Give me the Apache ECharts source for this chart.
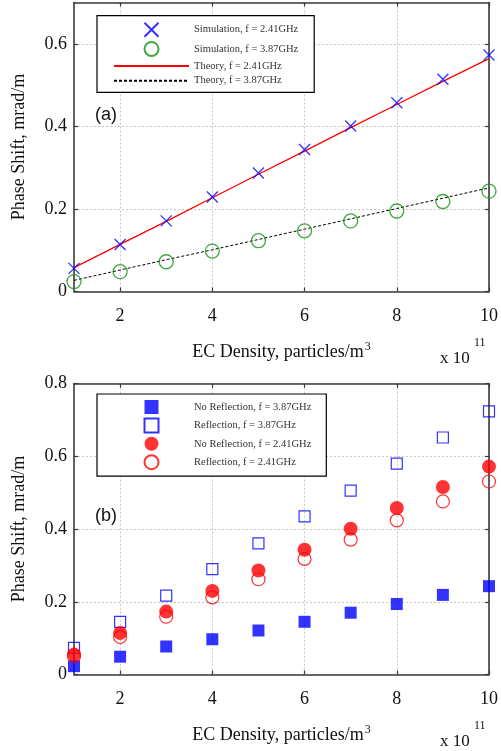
<!DOCTYPE html>
<html>
<head>
<meta charset="utf-8">
<script src="https://cdn.jsdelivr.net/npm/echarts@6/dist/echarts.min.js"></script>
<style>
  html, body { margin: 0; padding: 0; background: #fff; }
  #chart { width: 501px; height: 751px; }
</style>
</head>
<body>
<div id="chart"></div>
<script>
// EC density (units of 1e11 particles/m^3)
const density = [1, 2, 3, 4, 5, 6, 7, 8, 9, 10];
const xTicks = [2, 4, 6, 8, 10];
const yTicksA = [0, 0.2, 0.4, 0.6];
const yTicksB = [0, 0.2, 0.4, 0.6, 0.8];

// Panel (a): simulation vs. theory
const simA241 = [0.056, 0.114, 0.171, 0.229, 0.287, 0.344, 0.401, 0.457, 0.514, 0.573];
const simA387 = [0.024, 0.048, 0.072, 0.098, 0.123, 0.147, 0.171, 0.195, 0.218, 0.243];
const theoryA241 = [0.058, 0.114, 0.170, 0.227, 0.284, 0.340, 0.397, 0.453, 0.509, 0.564];
const theoryA387 = [0.027, 0.052, 0.077, 0.101, 0.126, 0.151, 0.176, 0.201, 0.226, 0.251];

// Panel (b): with and without reflections
const noRefl387 = [0.023, 0.049, 0.077, 0.097, 0.121, 0.145, 0.170, 0.194, 0.219, 0.243];
const refl387 = [0.073, 0.145, 0.217, 0.290, 0.361, 0.435, 0.506, 0.580, 0.652, 0.724];
const noRefl241 = [0.055, 0.114, 0.173, 0.230, 0.286, 0.343, 0.401, 0.458, 0.516, 0.572];
const refl241 = [0.050, 0.103, 0.159, 0.212, 0.262, 0.318, 0.371, 0.424, 0.476, 0.531];

const pairs = ys => density.map((x, i) => [x, ys[i]]);

const SERIF = '"Liberation Serif", "DejaVu Serif", serif';
const SANS = '"Liberation Sans", Arial, sans-serif';
const AXIS_COLOR = '#3a3a3a';
const BLUE = '#0000ff';
const RED = '#ff0000';
const GREEN = '#129412';
const CROSS = 'path://M0,0L10,10M0,10L10,0';
const SQUARE = 'path://M0,0H10V10H0Z';

function mainX(gridIndex) {
  return {
    type: 'value', gridIndex, min: 1, max: 10, position: 'bottom',
    name: '{t|EC Density, particles/m}{s|3}',
    nameLocation: 'middle', nameGap: 49,
    nameTextStyle: {
      rich: {
        t: { fontFamily: SERIF, fontSize: 18, color: '#111', verticalAlign: 'bottom' },
        s: { fontFamily: SERIF, fontSize: 12, color: '#111', verticalAlign: 'bottom', padding: [0, 0, 9, 1] }
      }
    },
    axisLine: { show: true, onZero: false, lineStyle: { color: AXIS_COLOR, width: 1.6 } },
    axisTick: { show: true, inside: true, length: 4, customValues: xTicks, lineStyle: { color: AXIS_COLOR, width: 1.2 } },
    axisLabel: { customValues: xTicks, margin: 16, fontFamily: SERIF, fontSize: 18, color: '#111' },
    splitLine: { show: true, lineStyle: { color: '#c8c8c8', type: [2, 2], width: 1 } }
  };
}
function topX(gridIndex) {
  return {
    type: 'value', gridIndex, min: 1, max: 10, position: 'top',
    axisLine: { show: true, onZero: false, lineStyle: { color: AXIS_COLOR, width: 1.6 } },
    axisTick: { show: true, inside: true, length: 4, customValues: xTicks, lineStyle: { color: AXIS_COLOR, width: 1.2 } },
    axisLabel: { show: false },
    splitLine: { show: false }
  };
}
function mainY(gridIndex, max, ticks) {
  return {
    type: 'value', gridIndex, min: 0, max, position: 'left',
    name: 'Phase Shift, mrad/m', nameLocation: 'middle', nameGap: 46,
    nameTextStyle: { fontFamily: SERIF, fontSize: 18, color: '#111' },
    axisLine: { show: true, onZero: false, lineStyle: { color: AXIS_COLOR, width: 1.6 } },
    axisTick: { show: true, inside: true, length: 4, customValues: ticks, lineStyle: { color: AXIS_COLOR, width: 1.2 } },
    axisLabel: { customValues: ticks, margin: 7, fontFamily: SERIF, fontSize: 18, color: '#111' },
    splitLine: { show: true, lineStyle: { color: '#c8c8c8', type: [2, 2], width: 1 } }
  };
}
function rightY(gridIndex, max, ticks) {
  return {
    type: 'value', gridIndex, min: 0, max, position: 'right',
    axisLine: { show: true, onZero: false, lineStyle: { color: AXIS_COLOR, width: 1.6 } },
    axisTick: { show: true, inside: true, length: 4, customValues: ticks, lineStyle: { color: AXIS_COLOR, width: 1.2 } },
    axisLabel: { show: false },
    splitLine: { show: false }
  };
}

const legendBase = {
  orient: 'vertical', left: 97,
  itemWidth: 75, itemHeight: 14, itemGap: 3.4,
  borderColor: '#000', borderWidth: 1.2, borderRadius: 0,
  backgroundColor: '#fff',
  symbolKeepAspect: true,
  textStyle: { fontFamily: SERIF, fontSize: 10.5, color: '#333' },
  selectedMode: false
};

const option = {
  animation: false,
  backgroundColor: '#fff',
  grid: [
    { left: 74, right: 11, top: 2.5, bottom: 459.5 },
    { left: 74, right: 11, top: 383.7, bottom: 76.5 }
  ],
  xAxis: [mainX(0), topX(0), mainX(1), topX(1)],
  yAxis: [mainY(0, 0.7, yTicksA), rightY(0, 0.7, yTicksA), mainY(1, 0.8, yTicksB), rightY(1, 0.8, yTicksB)],
  legend: [
    Object.assign({}, legendBase, {
      top: 15.7,
      padding: [6, 16, 6, 16],
      data: ['Simulation, f = 2.41GHz', 'Simulation, f = 3.87GHz', 'Theory, f = 2.41GHz', 'Theory, f = 3.87GHz']
    }),
    // symbol-only entries: icons sit in the middle of the 75px slot, so widen the left padding
    Object.assign({}, legendBase, {
      top: 394,
      padding: [6, 15, 6, 46.5],
      data: ['No Reflection, f = 3.87GHz', 'Reflection, f = 3.87GHz', 'No Reflection, f = 2.41GHz', 'Reflection, f = 2.41GHz']
    })
  ],
  graphic: [
    { type: 'text', left: 95, top: 106, style: { text: '(a)', font: '18px ' + SANS, fill: '#111' } },
    { type: 'text', left: 95, top: 507, style: { text: '(b)', font: '18px ' + SANS, fill: '#111' } },
    { type: 'text', left: 440, top: 350, style: { text: 'x 10', font: '17px ' + SERIF, fill: '#111' } },
    { type: 'text', left: 474, top: 337, style: { text: '11', font: '12px ' + SERIF, fill: '#111' } },
    { type: 'text', left: 440, top: 733, style: { text: 'x 10', font: '17px ' + SERIF, fill: '#111' } },
    { type: 'text', left: 474, top: 720, style: { text: '11', font: '12px ' + SERIF, fill: '#111' } }
  ],
  series: [
    // Panel (a)
    {
      name: 'Theory, f = 2.41GHz', type: 'line', xAxisIndex: 0, yAxisIndex: 0,
      data: pairs(theoryA241), symbol: 'none', z: 2,
      lineStyle: { color: RED, width: 1.3 },
      itemStyle: { color: 'transparent', borderColor: 'transparent', borderWidth: 0 }
    },
    {
      name: 'Theory, f = 3.87GHz', type: 'line', xAxisIndex: 0, yAxisIndex: 0,
      data: pairs(theoryA387), symbol: 'none', z: 2,
      lineStyle: { color: '#000', width: 1, type: [3, 2] },
      itemStyle: { color: 'transparent', borderColor: 'transparent', borderWidth: 0 }
    },
    {
      name: 'Simulation, f = 2.41GHz', type: 'scatter', xAxisIndex: 0, yAxisIndex: 0,
      data: pairs(simA241), symbol: CROSS, symbolSize: 11, z: 3,
      symbolKeepAspect: true,
      itemStyle: { color: 'transparent', borderColor: BLUE, borderWidth: 1.3 }
    },
    {
      name: 'Simulation, f = 3.87GHz', type: 'scatter', xAxisIndex: 0, yAxisIndex: 0,
      data: pairs(simA387), symbol: 'circle', symbolSize: 14, z: 3,
      itemStyle: { color: 'transparent', borderColor: GREEN, borderWidth: 1.3 }
    },
    // Panel (b)
    {
      name: 'No Reflection, f = 3.87GHz', type: 'scatter', xAxisIndex: 2, yAxisIndex: 2,
      data: pairs(noRefl387), symbol: SQUARE, symbolSize: 12, z: 3,
      symbolKeepAspect: true,
      itemStyle: { color: BLUE }
    },
    {
      name: 'Reflection, f = 3.87GHz', type: 'scatter', xAxisIndex: 2, yAxisIndex: 2,
      data: pairs(refl387), symbol: SQUARE, symbolSize: 11, z: 3,
      symbolKeepAspect: true,
      itemStyle: { color: 'transparent', borderColor: BLUE, borderWidth: 1.2 }
    },
    {
      name: 'Reflection, f = 2.41GHz', type: 'scatter', xAxisIndex: 2, yAxisIndex: 2,
      data: pairs(refl241), symbol: 'circle', symbolSize: 13, z: 3,
      itemStyle: { color: 'transparent', borderColor: RED, borderWidth: 1.2 }
    },
    {
      name: 'No Reflection, f = 2.41GHz', type: 'scatter', xAxisIndex: 2, yAxisIndex: 2,
      data: pairs(noRefl241), symbol: 'circle', symbolSize: 14, z: 4,
      itemStyle: { color: RED }
    }
  ]
};

const chart = echarts.init(document.getElementById('chart'), null, { renderer: 'canvas' });
chart.setOption(option);
</script>
</body>
</html>
